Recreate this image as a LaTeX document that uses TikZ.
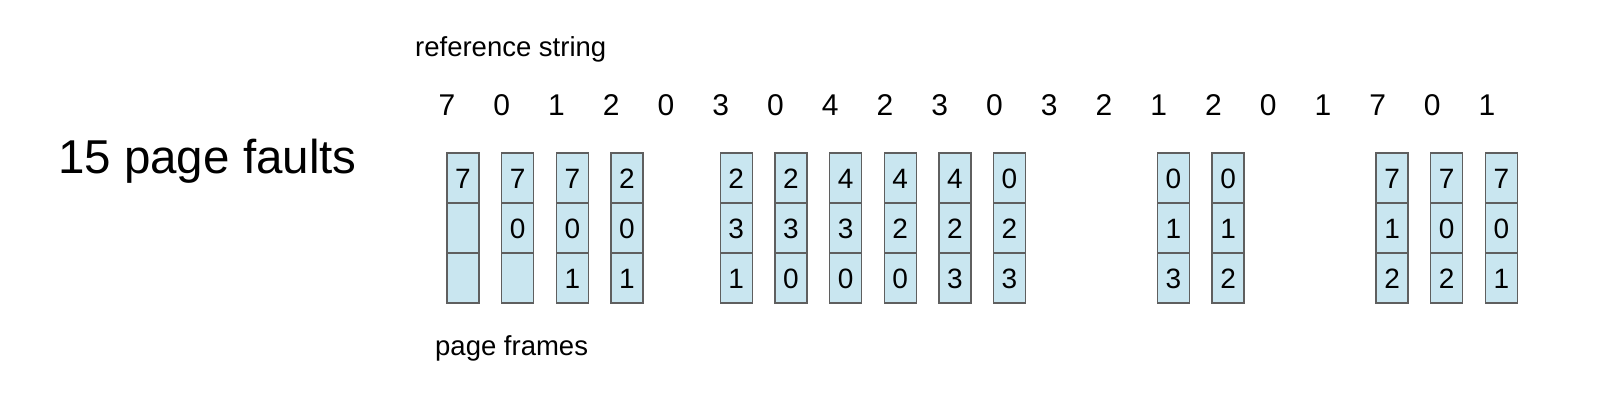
\documentclass[tikz,border=0pt]{standalone}
\usepackage{fontspec}
\setmainfont{Liberation Sans}
\definecolor{framefill}{RGB}{201,230,240}
\definecolor{frameline}{RGB}{95,95,95}
\begin{document}
\begin{tikzpicture}[x=1pt,y=1pt,
  lbl/.style={anchor=base west,inner sep=0pt,font=\fontsize{27.5}{33}\selectfont},
  refdigit/.style={anchor=base,inner sep=0pt,font=\fontsize{30}{36}\selectfont},
  cell/.style={draw=frameline,fill=framefill,line width=1.3pt,minimum width=32pt,minimum height=50pt,inner sep=0pt,
    text height=20pt,text depth=0pt,font=\fontsize{28}{34}\selectfont}]
\useasboundingbox (0,0) rectangle (1616,-402);
\node[lbl,font=\fontsize{47.5}{56}\selectfont] (faults) at (58,-173) {15 page faults};
\node[lbl] (refstr) at (415,-56) {reference string};
\node[lbl] (pframes) at (435,-355) {page frames};
\foreach \d [count=\i from 0] in {7,0,1,2,0,3,0,4,2,3,0,3,2,1,2,0,1,7,0,1}
  \node[refdigit] (r\i) at ({447+\i*54.74},-115) {\d};
\foreach \i/\a/\b/\c in {0/7//,1/7/0/,2/7/0/1,3/2/0/1,5/2/3/1,6/2/3/0,7/4/3/0,8/4/2/0,9/4/2/3,10/0/2/3,13/0/1/3,14/0/1/2,17/7/1/2,18/7/0/2,19/7/0/1}{
  \node[cell] (f\i a) at ({463+\i*54.65},-178) {\a};
  \node[cell] (f\i b) at ({463+\i*54.65},-228) {\b};
  \node[cell] (f\i c) at ({463+\i*54.65},-278) {\c};
}
\end{tikzpicture}
\end{document}
